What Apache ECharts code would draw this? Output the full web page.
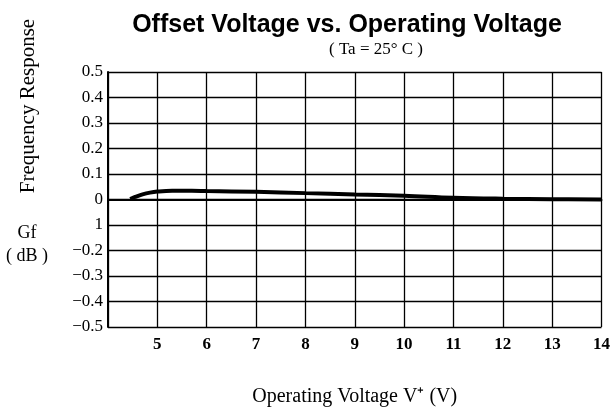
<!DOCTYPE html>
<html>
<head>
<meta charset="utf-8">
<script src="https://cdn.jsdelivr.net/npm/echarts@6/dist/echarts.min.js"></script>
<style>html,body{margin:0;padding:0;background:#fff}#c{width:613px;height:412px}</style>
</head>
<body>
<div id="c"></div>
<script>
var titleText = 'Offset Voltage vs. Operating Voltage';
var subtitleText = '( Ta = 25\u00B0 C )';
var xName = 'Operating Voltage V\u207A (V)';
var yName = 'Frequency Response';
var unitLines = ['Gf', '( dB )'];
var xTickValues = [5, 6, 7, 8, 9, 10, 11, 12, 13, 14];
var yTickValues = [-0.5, -0.4, -0.3, -0.2, -0.1, 0, 0.1, 0.2, 0.3, 0.4, 0.5];
var yTickLabels = ['\u22120.5', '\u22120.4', '\u22120.3', '\u22120.2', '1', '0', '0.1', '0.2', '0.3', '0.4', '0.5'];
var voltage = [4.45, 4.55, 4.7, 4.85, 5.0, 5.3, 5.7, 6, 7, 8, 9, 10, 11, 12, 13, 14];
var offset  = [0.002, 0.010, 0.020, 0.027, 0.031, 0.034, 0.034, 0.033, 0.030, 0.025, 0.020, 0.015, 0.007, 0.003, 0.001, 0.0];

var chart = echarts.init(document.getElementById('c'), null, {renderer: 'canvas'});
var serif = 'Liberation Serif';
chart.setOption({
  animation: false,
  backgroundColor: '#fff',
  title: {
    text: titleText,
    left: 342, top: 8, textAlign: 'center',
    textStyle: {fontFamily: 'Liberation Sans', fontWeight: 'bold', fontSize: 25, color: '#000'}
  },
  graphic: [
    {type: 'text', x: 376, y: 50, style: {text: subtitleText, font: '17px "Liberation Serif"', fill: '#000', align: 'center', verticalAlign: 'middle'}},
    {type: 'text', x: 27, y: 233, style: {text: unitLines[0], font: '18px "Liberation Serif"', fill: '#000', align: 'center', verticalAlign: 'middle'}},
    {type: 'text', x: 27, y: 256, style: {text: unitLines[1], font: '18px "Liberation Serif"', fill: '#000', align: 'center', verticalAlign: 'middle'}},
    {type: 'text', x: 28, y: 106, rotation: Math.PI / 2, style: {text: yName, font: '21px "Liberation Serif"', fill: '#000', align: 'center', verticalAlign: 'middle'}}
  ],
  grid: {left: 108, right: 4, top: 72, bottom: 85},
  xAxis: {
    type: 'value', min: 4, max: 14, interval: 1,
    name: xName, nameLocation: 'middle', nameGap: 60,
    nameTextStyle: {fontFamily: serif, fontSize: 20, color: '#000'},
    axisLine: {show: true, lineStyle: {color: '#000', width: 2}},
    axisTick: {show: false},
    axisLabel: {
      fontFamily: serif, fontWeight: 'bold', fontSize: 17, color: '#000', margin: 9,
      formatter: function (v) { return xTickValues.indexOf(v) >= 0 ? String(v) : ''; }
    },
    splitLine: {show: true, lineStyle: {color: '#000', width: 1.3}}
  },
  yAxis: {
    type: 'value', min: -0.5, max: 0.5, interval: 0.1,
    axisLine: {show: true, lineStyle: {color: '#000', width: 2}},
    axisTick: {show: false},
    axisLabel: {
      fontFamily: serif, fontSize: 17, color: '#000', margin: 5,
      formatter: function (v) {
        for (var i = 0; i < yTickValues.length; i++) {
          if (Math.abs(yTickValues[i] - v) < 1e-6) return yTickLabels[i];
        }
        return '';
      }
    },
    splitLine: {show: true, lineStyle: {color: '#000', width: 1.3}}
  },
  series: [{
    type: 'line',
    data: voltage.map(function (x, i) { return [x, offset[i]]; }),
    smooth: 0.4,
    showSymbol: false,
    lineStyle: {color: '#000', width: 4},
    z: 5
  }]
});
</script>
</body>
</html>
